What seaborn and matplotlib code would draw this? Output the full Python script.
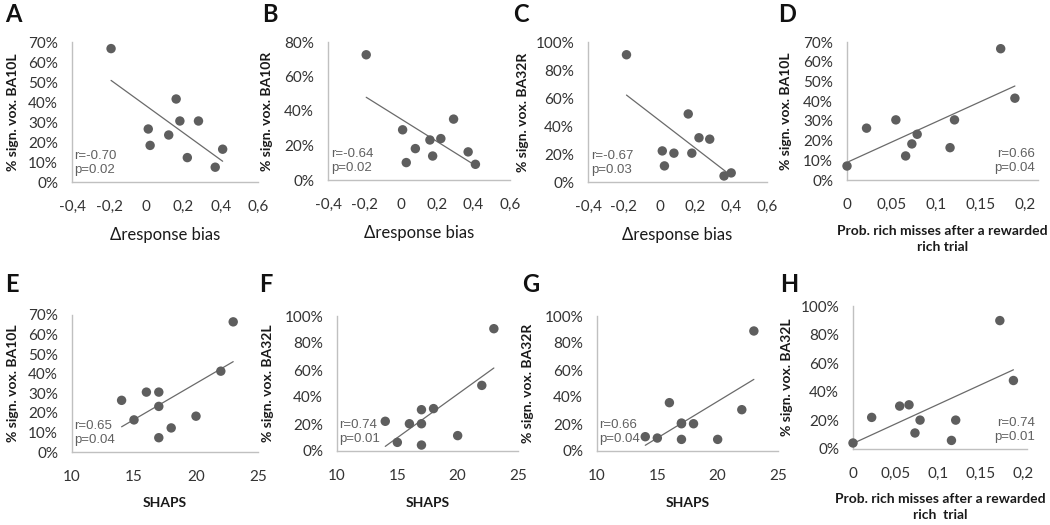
import matplotlib
matplotlib.use("Agg")
import matplotlib.pyplot as plt
import seaborn as sns
import numpy as np
import pandas as pd
from matplotlib.ticker import FuncFormatter, FixedLocator

# ---------------- data ----------------
A_x = [-0.19, 0.01, 0.02, 0.12, 0.16, 0.18, 0.22, 0.28, 0.37, 0.41]
A_y = [66.7, 26.5, 18.3, 23.5, 41.5, 30.5, 12.2, 30.5, 7.4, 16.4]
B_x = [-0.19, 0.01, 0.03, 0.08, 0.16, 0.175, 0.22, 0.29, 0.37, 0.41]
B_y = [72.6, 29.1, 10.1, 18.2, 23.2, 13.9, 24.0, 35.3, 16.3, 9.1]
C_x = [-0.185, 0.015, 0.027, 0.08, 0.16, 0.18, 0.22, 0.28, 0.36, 0.40]
C_y = [90.9, 22.2, 11.5, 20.6, 48.6, 20.6, 31.6, 30.6, 4.3, 6.5]
D_x = [0.0, 0.022, 0.055, 0.066, 0.073, 0.079, 0.116, 0.121, 0.173, 0.189]
D_y = [7.1, 26.3, 30.5, 12.2, 18.3, 23.2, 16.4, 30.5, 66.6, 41.5]
E_x = [14, 15, 16, 17, 17, 17, 18, 20, 22, 23]
E_y = [26.4, 16.4, 30.6, 30.6, 23.3, 7.3, 12.3, 18.3, 41.3, 66.5]
F_x = [14, 15, 16, 17, 17, 17, 18, 20, 22, 23]
F_y = [22.0, 6.4, 20.2, 30.6, 20.2, 4.4, 31.4, 11.4, 48.6, 90.6]
G_x = [14, 15, 16, 17, 17, 17, 18, 20, 22, 23]
G_y = [10.6, 9.6, 35.8, 20.7, 20.2, 8.6, 20.2, 8.6, 30.6, 88.9]
H_x = [0.0, 0.022, 0.055, 0.066, 0.073, 0.079, 0.116, 0.121, 0.173, 0.189]
H_y = [4.2, 22.1, 30.0, 30.9, 11.2, 20.2, 6.0, 20.2, 89.8, 47.9]

panel_letters = ["A", "B", "C", "D", "E", "F", "G", "H"]
y_labels = ["% sign. vox. BA10L", "% sign. vox. BA10R", "% sign. vox. BA32R", "% sign. vox. BA10L",
            "% sign. vox. BA10L", "% sign. vox. BA32L", "% sign. vox. BA32R", "% sign. vox. BA32L"]
x_labels = ["\u0394response bias", "\u0394response bias", "\u0394response bias",
            "Prob. rich misses after a rewarded\nrich trial",
            "SHAPS", "SHAPS", "SHAPS",
            "Prob. rich misses after a rewarded\nrich  trial"]
stats = ["r=-0.70\np=0.02", "r=-0.64\np=0.02", "r=-0.67\np=0.03", "r=0.66\np=0.04",
         "r=0.65\np=0.04", "r=0.74\np=0.01", "r=0.66\np=0.04", "r=0.74\np=0.01"]

bias_ticks = [-0.4, -0.2, 0.0, 0.2, 0.4, 0.6]
bias_tick_labels = ["-0,4", "-0,2", "0", "0,2", "0,4", "0,6"]
prob_ticks = [0.0, 0.05, 0.1, 0.15, 0.2]
prob_tick_labels = ["0", "0,05", "0,1", "0,15", "0,2"]
shaps_ticks = [10, 15, 20, 25]
shaps_tick_labels = ["10", "15", "20", "25"]
y70_ticks = [0, 10, 20, 30, 40, 50, 60, 70]
y80_ticks = [0, 20, 40, 60, 80]
y100_ticks = [0, 20, 40, 60, 80, 100]

# ---------------- style ----------------
sns.set_style("white")
plt.rcParams["font.family"] = ["Lato", "DejaVu Sans"]

W, H = 1050, 525
fig = plt.figure(figsize=(10.5, 5.25), dpi=100)
fig.patch.set_facecolor("white")

def rect(l, r, t, b):
    return [l / W, 1 - b / H, (r - l) / W, (b - t) / H]

def fx(x):
    return x / W

def fy(y):
    return 1 - y / H

panels = [
    dict(x=A_x, y=A_y, box=(72, 258, 42, 182), xlim=(-0.4, 0.6), xt=bias_ticks, xtl=bias_tick_labels,
         yt=y70_ticks, ylx=13, xly=235, xlbold=False, st=(74, "left")),
    dict(x=B_x, y=B_y, box=(328, 510, 42, 180), xlim=(-0.4, 0.6), xt=bias_ticks, xtl=bias_tick_labels,
         yt=y80_ticks, ylx=267, xly=233, xlbold=False, st=(331, "left")),
    dict(x=C_x, y=C_y, box=(588, 767, 42, 182), xlim=(-0.4, 0.6), xt=bias_ticks, xtl=bias_tick_labels,
         yt=y100_ticks, ylx=523, xly=235, xlbold=False, st=(591, "left")),
    dict(x=D_x, y=D_y, box=(847, 1038, 42, 180), xlim=(0, 0.215), xt=prob_ticks, xtl=prob_tick_labels,
         yt=y70_ticks, ylx=786, xly=239, xlbold=True, st=(1035, "right")),
    dict(x=E_x, y=E_y, box=(72, 258, 315, 452), xlim=(10, 25), xt=shaps_ticks, xtl=shaps_tick_labels,
         yt=y70_ticks, ylx=13, xly=503, xlbold=True, st=(74, "left")),
    dict(x=F_x, y=F_y, box=(337, 518, 316, 451), xlim=(10, 25), xt=shaps_ticks, xtl=shaps_tick_labels,
         yt=y100_ticks, ylx=268, xly=503, xlbold=True, st=(339, "left")),
    dict(x=G_x, y=G_y, box=(597, 778, 316, 451), xlim=(10, 25), xt=shaps_ticks, xtl=shaps_tick_labels,
         yt=y100_ticks, ylx=528, xly=503, xlbold=True, st=(599, "left")),
    dict(x=H_x, y=H_y, box=(853, 1027, 306, 449), xlim=(0, 0.205), xt=prob_ticks, xtl=prob_tick_labels,
         yt=y100_ticks, ylx=787, xly=507, xlbold=True, st=(1035, "right")),
]

letter_pos = [(5, 14), (262, 14), (513, 14), (778, 14), (5, 285), (259, 285), (522, 285), (780, 285)]

pt_color = "#5e5e5e"
line_color = "#6a6a6a"
spine_color = "#c0c0c0"
tick_color = "#333333"

for i, p in enumerate(panels):
    l, r, t, b = p["box"]
    ax = fig.add_axes(rect(l, r, t, b))
    df = pd.DataFrame({"x": p["x"], "y": p["y"]})
    sns.regplot(data=df, x="x", y="y", ax=ax, ci=None, truncate=True,
                scatter_kws=dict(s=46, color=pt_color, edgecolor="none", alpha=1, zorder=3),
                line_kws=dict(color=line_color, lw=0.9, zorder=2))
    for c in ax.collections:
        c.set_clip_on(False)
    ax.set_xlim(*p["xlim"])
    ax.set_ylim(0, p["yt"][-1])
    ax.xaxis.set_major_locator(FixedLocator(p["xt"]))
    ax.set_xticklabels(p["xtl"])
    ax.yaxis.set_major_locator(FixedLocator(p["yt"]))
    ax.yaxis.set_major_formatter(FuncFormatter(lambda v, pos: f"{v:.0f}%"))
    ax.set_xlabel("")
    ax.set_ylabel("")
    for s in ["top", "right"]:
        ax.spines[s].set_visible(False)
    for s in ["left", "bottom"]:
        ax.spines[s].set_color(spine_color)
        ax.spines[s].set_linewidth(1.0)
    ax.tick_params(axis="both", length=0, labelsize=11, labelcolor=tick_color)
    ax.tick_params(axis="y", pad=10)
    ax.tick_params(axis="x", pad=13)
    ax.set_facecolor("none")

    # y label
    fig.text(fx(p["ylx"]), fy((t + b) / 2), y_labels[i], rotation=90, ha="center", va="center",
             fontsize=10, fontweight="bold", color="#1a1a1a")
    # x label
    fig.text(fx((l + r) / 2), fy(p["xly"]), x_labels[i], ha="center", va="center",
             fontsize=12 if not p["xlbold"] else 10,
             fontweight="bold" if p["xlbold"] else "normal", color="#1a1a1a", linespacing=1.4)
    # stats text
    sx, ha = p["st"]
    fig.text(fx(sx), fy(b - 19), stats[i], ha=ha, va="center", fontsize=9.5,
             family=["Liberation Sans", "DejaVu Sans"], color="#606060", linespacing=1.2)
    # panel letter
    lx, ly = letter_pos[i]
    fig.text(fx(lx), fy(ly), panel_letters[i], ha="left", va="center", fontsize=17,
             fontweight="bold", color="#111111")

fig.savefig("out.png", dpi=100, facecolor="white")
